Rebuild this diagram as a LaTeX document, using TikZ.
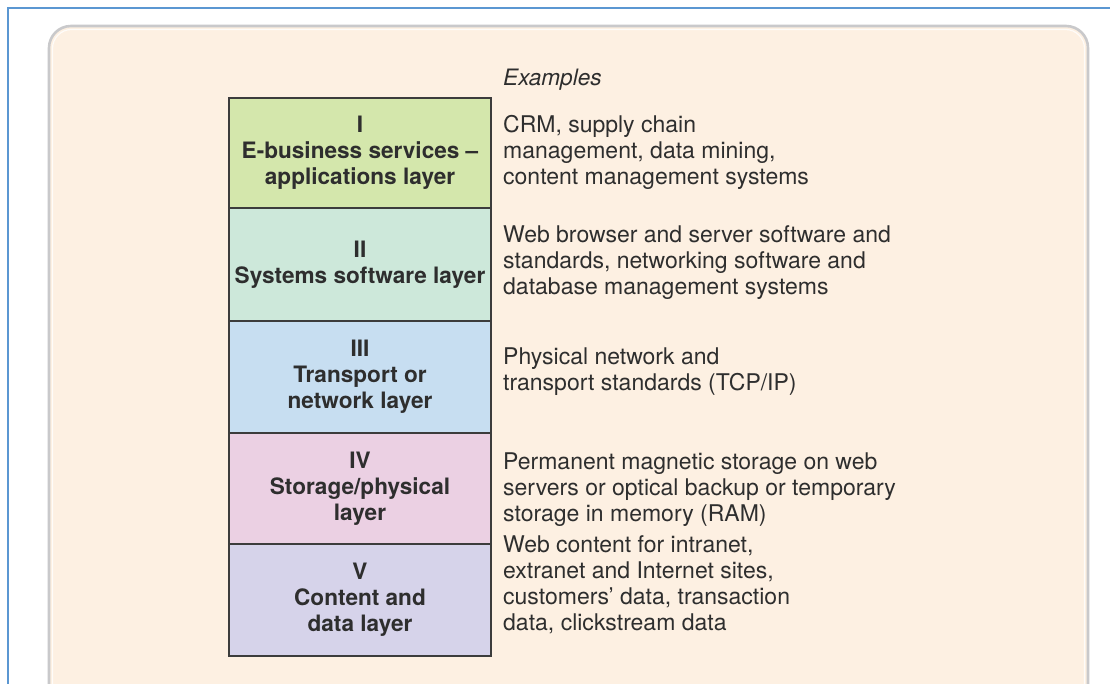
\documentclass[tikz,border=0pt]{standalone}
\usepackage{fontspec}
\setmainfont{TeX Gyre Heros}
\definecolor{frameblue}{HTML}{5B97D2}
\definecolor{panelfill}{HTML}{FDF0E2}
\definecolor{panelrim}{HTML}{C9C9CB}
\definecolor{rowline}{HTML}{3C3C3C}
\definecolor{inktext}{HTML}{2E2E2E}
\definecolor{layerA}{HTML}{D4E7AC}
\definecolor{layerB}{HTML}{CDE8DA}
\definecolor{layerC}{HTML}{C7DEF1}
\definecolor{layerD}{HTML}{EBD0E3}
\definecolor{layerE}{HTML}{D6D3EA}
\tikzset{
  layerbox/.style={draw=rowline, line width=1.6pt, minimum width=262pt,
    inner sep=0pt, align=center, text=inktext,
    font=\fontsize{22.6}{26}\selectfont\bfseries},
  exampletext/.style={anchor=west, inner sep=0pt, align=left, text=inktext,
    font=\fontsize{23}{26}\selectfont}
}
\begin{document}
\begin{tikzpicture}[x=1pt,y=-1pt]
\useasboundingbox (0,0) rectangle (1110,684);
\clip (0,0) rectangle (1110,684);
\fill[white] (0,0) rectangle (1110,684);
% rounded panel, open at the bottom edge
\draw[panelrim, line width=2.6pt, fill=panelfill, rounded corners=22pt]
  (49,720) -- (49,26) -- (1088,26) -- (1088,720);
\draw[white, line width=1.2pt, rounded corners=19pt, opacity=0.8]
  (52.5,720) -- (52.5,29.5) -- (1084.5,29.5) -- (1084.5,720);
% outer blue frame
\draw[frameblue, line width=2.2pt] (1110,8) -- (8,8) -- (8,684);

% the five layers
\node[layerbox, fill=layerA, minimum height=110pt] (l1) at (360,153)
  {I\\E-business services --\\applications layer};
\node[layerbox, fill=layerB, minimum height=113pt] (l2) at (360,264.5)
  {II\\Systems software layer};
\node[layerbox, fill=layerC, minimum height=112pt] (l3) at (360,377)
  {III\\Transport or\\network layer};
\node[layerbox, fill=layerD, minimum height=111pt] (l4) at (360,488.5)
  {IV\\Storage/physical\\layer};
\node[layerbox, fill=layerE, minimum height=112pt] (l5) at (360,600)
  {V\\Content and\\data layer};

% examples column
\node[exampletext, font=\fontsize{22.6}{26}\selectfont\itshape] (ex) at (503,80) {Examples};
\node[exampletext] (e1) at (503,152)
  {CRM, supply chain\\management, data mining,\\content management systems};
\node[exampletext] (e2) at (503,263)
  {Web browser and server software and\\standards, networking software and\\database management systems};
\node[exampletext] (e3) at (503,371.5)
  {Physical network and\\transport standards (TCP/IP)};
\node[exampletext] (e4) at (503,490)
  {Permanent magnetic storage on web\\servers or optical backup or temporary\\storage in memory (RAM)};
\node[exampletext] (e5) at (503,584.5)
  {Web content for intranet,\\extranet and Internet sites,\\customers' data, transaction\\data, clickstream data};
\end{tikzpicture}
\end{document}
